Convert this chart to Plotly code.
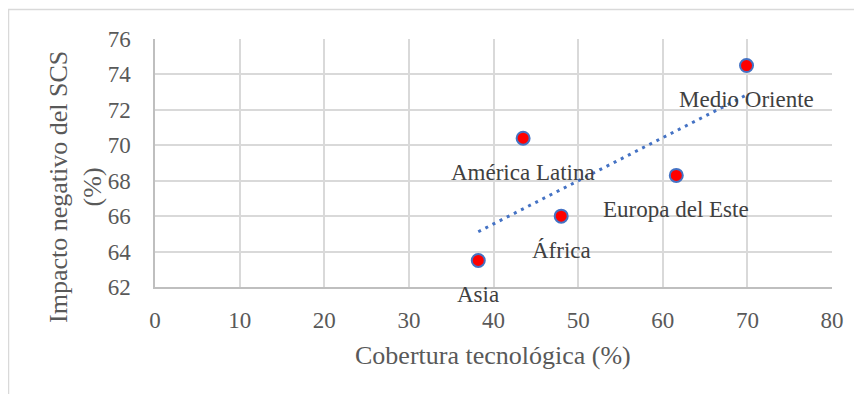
import numpy as np
import plotly.graph_objects as go

regions = ["Asia", "América Latina", "África", "Europa del Este", "Medio Oriente"]
cobertura = [38.2, 43.5, 48.0, 61.6, 69.9]
impacto = [63.5, 70.4, 66.0, 68.3, 74.5]
x_ticks = [0, 10, 20, 30, 40, 50, 60, 70, 80]
y_ticks = [62, 64, 66, 68, 70, 72, 74, 76]

# page is offset by the 8px body margin of the html page
OFF = 8
W, H = 862 - OFF, 394 - OFF
L, R, T, B = 155 - OFF, 30, 39 - OFF, 107
pw, ph = W - L - R, H - T - B

def px_x(p):
    return (p - OFF - L) / pw

def px_y(p):
    return (H - B - (p - OFF)) / ph

FONT = "Liberation Serif"
GRID = "#D9D9D9"
TXT = "#595959"

# linear trendline (least squares) from the data
slope, intercept = np.polyfit(cobertura, impacto, 1)
tx = [min(cobertura), max(cobertura)]
ty = [slope * v + intercept for v in tx]

fig = go.Figure()
fig.add_trace(go.Scatter(x=tx, y=ty, mode="lines",
                         line=dict(color="#4472C4", width=3, dash="3px,5px"),
                         hoverinfo="skip", showlegend=False))
fig.add_trace(go.Scatter(x=cobertura, y=impacto, mode="markers",
                         marker=dict(color="#FF0000", size=13,
                                     line=dict(color="#4472C4", width=2)),
                         showlegend=False))

for r, xv, yv in zip(regions, cobertura, impacto):
    fig.add_annotation(x=xv, y=yv, text=r, showarrow=False, yshift=-34,
                       xanchor="center", yanchor="middle",
                       font=dict(family=FONT, size=23, color="#404040"))

fig.add_annotation(xref="paper", yref="paper", x=px_x(75), y=px_y(187),
                   text="Impacto negativo del SCS<br>(%)", showarrow=False,
                   textangle=-90, xanchor="center", yanchor="middle",
                   font=dict(family=FONT, size=26, color=TXT))
fig.add_annotation(xref="paper", yref="paper", x=px_x(493), y=px_y(355),
                   text="Cobertura tecnológica (%)", showarrow=False,
                   xanchor="center", yanchor="middle",
                   font=dict(family=FONT, size=26, color=TXT))

# chart outer border
fig.add_shape(type="rect", xref="paper", yref="paper",
              x0=px_x(8.5), x1=px_x(900), y0=px_y(440), y1=px_y(9.5),
              line=dict(color="#D9D9D9", width=1.5), layer="below")

fig.update_xaxes(range=[0, 80], tickvals=x_ticks, showgrid=True, gridcolor=GRID,
                 gridwidth=1.5, zeroline=False, showline=True, linecolor="#BFBFBF",
                 linewidth=1.5, ticks="", ticklabelstandoff=12,
                 tickfont=dict(family=FONT, size=23, color=TXT))
fig.update_yaxes(range=[62, 76], tickvals=y_ticks, showgrid=True, gridcolor=GRID,
                 gridwidth=1.5, zeroline=False, showline=True, linecolor="#BFBFBF",
                 linewidth=1.5, ticks="", ticklabelstandoff=18,
                 tickfont=dict(family=FONT, size=23, color=TXT))

fig.update_layout(width=W, height=H, margin=dict(l=L, r=R, t=T, b=B, autoexpand=False),
                  font=dict(family=FONT, color=TXT),
                  paper_bgcolor="white", plot_bgcolor="white", showlegend=False)

fig.write_html("out.html")
